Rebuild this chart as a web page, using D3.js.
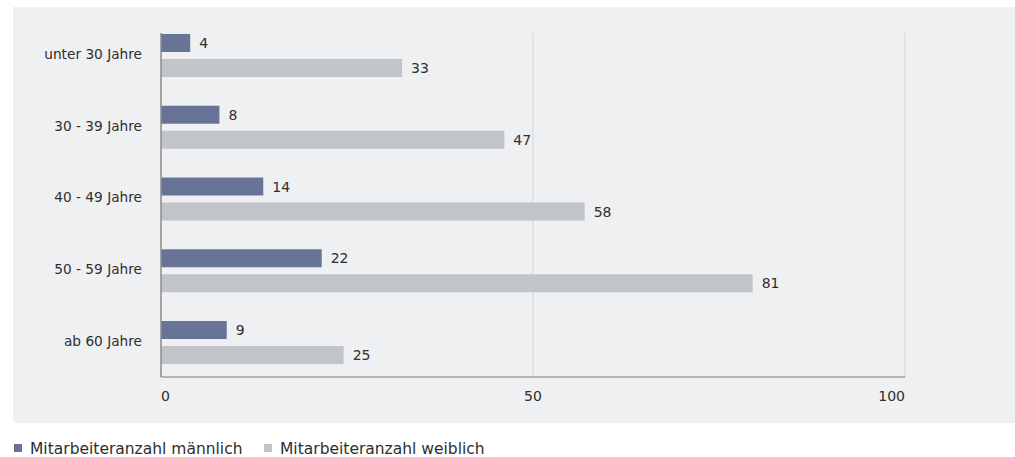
<!DOCTYPE html>
<html>
<head>
<meta charset="utf-8">
<script src="https://cdn.jsdelivr.net/npm/d3@7"></script>
<style>
  html, body { margin: 0; padding: 0; background: #ffffff; }
  svg { display: block; font-family: "DejaVu Sans", "Liberation Sans", Arial, sans-serif; }
</style>
</head>
<body>
<svg id="chart" width="1015" height="457"></svg>
<script>
// Altersstruktur der Belegschaft
const categories = ["unter 30 Jahre", "30 - 39 Jahre", "40 - 49 Jahre", "50 - 59 Jahre", "ab 60 Jahre"];
const maleValues = [4, 8, 14, 22, 9];
const femaleValues = [33, 47, 58, 81, 25];
const seriesNames = ["Mitarbeiteranzahl männlich", "Mitarbeiteranzahl weiblich"];
const xTicks = [0, 50, 100];

const colors = ["#687497", "#c2c4cc"];
const textColor = "#2e2e2e";

const svg = d3.select("#chart");

// panel background
svg.append("rect")
  .attr("x", 13).attr("y", 7)
  .attr("width", 1002).attr("height", 416)
  .attr("fill", "#eff0f2");

const plot = { left: 161, right: 905, top: 33, bottom: 377 };

// axis scale (gridlines, tick labels) and bar value scale
const xAxis = d3.scaleLinear().domain([0, 100]).range([plot.left, plot.right]);
const x = d3.scaleLinear().domain([0, 100]).range([plot.left, 891.5]);
const y = d3.scaleBand().domain(categories).range([19.6, 378.4]);
const sub = d3.scaleBand().domain([0, 1]).range([0, 43]).paddingInner(0.28);

// vertical gridlines
svg.append("g")
  .selectAll("line")
  .data(xTicks.filter(t => t > 0))
  .join("line")
  .attr("x1", d => xAxis(d)).attr("x2", d => xAxis(d))
  .attr("y1", plot.top).attr("y2", plot.bottom)
  .attr("stroke", "#d3d5d9")
  .attr("stroke-width", 1);

// bars with value labels
const series = [maleValues, femaleValues];
const groups = svg.append("g")
  .selectAll("g")
  .data(categories)
  .join("g")
  .attr("transform", d => `translate(0,${y(d) + y.bandwidth() / 2 - 21.5})`);

groups.each(function (cat, ci) {
  const g = d3.select(this);
  series.forEach((vals, si) => {
    const v = vals[ci];
    g.append("rect")
      .attr("x", x(0))
      .attr("y", sub(si))
      .attr("width", x(v) - x(0))
      .attr("height", sub.bandwidth())
      .attr("fill", colors[si]);
    g.append("text")
      .attr("x", x(v) + 9)
      .attr("y", sub(si) + sub.bandwidth() / 2)
      .attr("dy", "0.36em")
      .attr("font-size", 14)
      .attr("fill", textColor)
      .text(v);
  });
});

// axis lines
svg.append("line")
  .attr("x1", plot.left).attr("x2", plot.left)
  .attr("y1", plot.top).attr("y2", plot.bottom)
  .attr("stroke", "#8c8c8c").attr("stroke-width", 1.5);
svg.append("line")
  .attr("x1", plot.left).attr("x2", plot.right)
  .attr("y1", plot.bottom).attr("y2", plot.bottom)
  .attr("stroke", "#7d7d7d").attr("stroke-width", 1);

// x tick labels
svg.append("g")
  .selectAll("text")
  .data(xTicks)
  .join("text")
  .attr("x", d => xAxis(d))
  .attr("y", 396)
  .attr("dy", "0.36em")
  .attr("text-anchor", (d, i) => i === 0 ? "start" : (i === xTicks.length - 1 ? "end" : "middle"))
  .attr("font-size", 14)
  .attr("fill", textColor)
  .text(d => d);

// category labels
svg.append("g")
  .selectAll("text")
  .data(categories)
  .join("text")
  .attr("x", 142)
  .attr("y", d => y(d) + y.bandwidth() / 2 - 1.5)
  .attr("dy", "0.36em")
  .attr("text-anchor", "end")
  .attr("font-size", 13.7)
  .attr("fill", textColor)
  .text(d => d);

// legend
const legendPos = [14, 264];
const legend = svg.append("g")
  .selectAll("g")
  .data(seriesNames)
  .join("g")
  .attr("transform", (d, i) => `translate(${legendPos[i]},444)`);
legend.append("rect")
  .attr("width", 8).attr("height", 8)
  .attr("fill", (d, i) => colors[i]);
legend.append("text")
  .attr("x", 16).attr("y", 4)
  .attr("dy", "0.36em")
  .attr("font-size", 15.5)
  .attr("fill", textColor)
  .text(d => d);
</script>
</body>
</html>
